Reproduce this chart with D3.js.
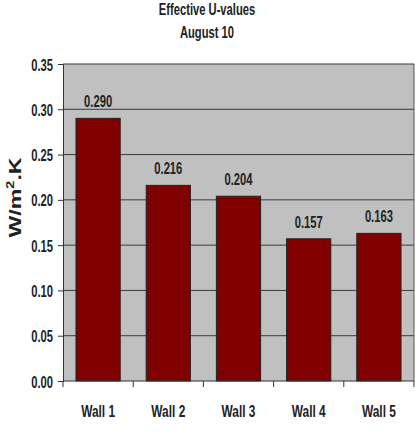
<!DOCTYPE html>
<html>
<head>
<meta charset="utf-8">
<script src="https://cdnjs.cloudflare.com/ajax/libs/d3/7.8.5/d3.min.js"></script>
<style>
  body { margin: 0; background: #fff; }
  svg text { font-family: "Liberation Sans", Arial, sans-serif; font-weight: bold; fill: #222; }
</style>
</head>
<body>
<svg id="chart" width="415" height="435"></svg>
<script>
var walls = ['Wall 1', 'Wall 2', 'Wall 3', 'Wall 4', 'Wall 5'];
var uValues = [0.290, 0.216, 0.204, 0.157, 0.163];
var yTicks = [0, 0.05, 0.10, 0.15, 0.20, 0.25, 0.30, 0.35];
var titleLines = ['Effective U-values', 'August 10'];

var NARROW = 0.7;

var margin = {top: 64, right: 1, bottom: 54, left: 63},
    width = 415 - margin.left - margin.right,
    height = 435 - margin.top - margin.bottom;

var svg = d3.select('#chart');

// places a condensed text (the reference uses a narrow face)
function narrow(sel, fx, fy) {
  return sel.attr('transform', function(d, i) {
    return 'translate(' + fx(d, i) + ',' + fy(d, i) + ') scale(' + NARROW + ',1)';
  });
}

// title
narrow(svg.selectAll('.title')
  .data(titleLines)
  .enter().append('text')
    .attr('class', 'title')
    .attr('text-anchor', 'middle')
    .style('font-size', '16px')
    .text(function(d) { return d; }),
  function() { return 207; },
  function(d, i) { return 15 + i * 23; });

var g = svg.append('g')
    .attr('transform', 'translate(' + margin.left + ',' + margin.top + ')');

var x = d3.scaleBand()
    .domain(walls)
    .range([0, width])
    .paddingInner(0.37)
    .paddingOuter(0.185);

var y = d3.scaleLinear()
    .domain([0, 0.35])
    .range([height, 0]);

// plot background
g.append('rect')
    .attr('width', width)
    .attr('height', height)
    .attr('fill', '#c0c0c0');

// gridlines
g.selectAll('.grid')
  .data(yTicks.slice(1))
  .enter().append('line')
    .attr('x1', 0)
    .attr('x2', width)
    .attr('y1', function(d) { return y(d); })
    .attr('y2', function(d) { return y(d); })
    .attr('stroke', '#3a3a3a')
    .attr('stroke-width', 1);

// right border
g.append('line')
    .attr('x1', width).attr('x2', width)
    .attr('y1', 0).attr('y2', height)
    .attr('stroke', '#555');

// bars
g.selectAll('.bar')
  .data(uValues)
  .enter().append('rect')
    .attr('class', 'bar')
    .attr('x', function(d, i) { return x(walls[i]); })
    .attr('y', function(d) { return y(d); })
    .attr('width', x.bandwidth())
    .attr('height', function(d) { return height - y(d); })
    .attr('fill', '#800000')
    .attr('stroke', '#222')
    .attr('stroke-width', 1);

// value labels
narrow(g.selectAll('.val')
  .data(uValues)
  .enter().append('text')
    .attr('text-anchor', 'middle')
    .style('font-size', '16px')
    .text(function(d) { return d3.format('.3f')(d); }),
  function(d, i) { return x(walls[i]) + x.bandwidth() / 2; },
  function(d) { return y(d) - 11; });

// y axis
var yAxis = g.append('g')
    .call(d3.axisLeft(y).tickValues(yTicks).tickFormat(d3.format('.2f')).tickSize(5).tickPadding(0));
yAxis.selectAll('line, path').attr('stroke', '#333');
yAxis.selectAll('.tick text')
    .attr('x', null).attr('dy', null)
    .attr('text-anchor', 'end')
    .attr('transform', 'translate(-10,6) scale(' + NARROW + ',1)')
    .style('font-size', '16px');

// x axis: ticks at category boundaries
var xAxis = g.append('g')
    .attr('transform', 'translate(0,' + height + ')');
xAxis.append('line')
    .attr('x1', 0).attr('x2', width)
    .attr('stroke', '#333');
var edge = function(i) { return x.step() * (i + x.paddingOuter() - x.paddingInner() / 2); };
xAxis.selectAll('.xtick')
  .data(d3.range(walls.length + 1))
  .enter().append('line')
    .attr('x1', edge)
    .attr('x2', edge)
    .attr('y1', 0).attr('y2', 6)
    .attr('stroke', '#333');
narrow(xAxis.selectAll('.xlab')
  .data(walls)
  .enter().append('text')
    .attr('text-anchor', 'middle')
    .style('font-size', '17px')
    .text(function(d) { return d; }),
  function(d) { return x(d) + x.bandwidth() / 2; },
  function() { return 36; });

// y axis title
var yt = svg.append('text')
    .attr('transform', 'translate(21,' + (margin.top + height / 2 - 25) + ') rotate(-90) scale(1.45,1)')
    .attr('text-anchor', 'middle')
    .style('font-size', '16px');
yt.append('tspan').text('W/m');
yt.append('tspan').attr('dy', -7).style('font-size', '10px').text('2');
yt.append('tspan').attr('dy', 7).text('.K');
</script>
</body>
</html>
